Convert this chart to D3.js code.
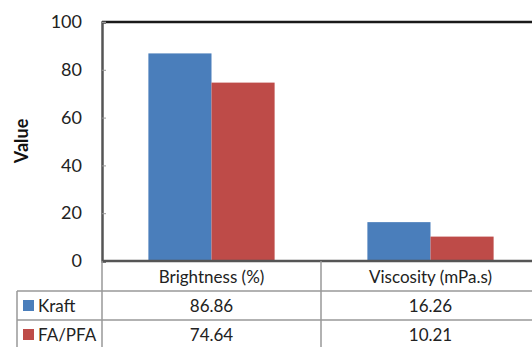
<!DOCTYPE html>
<html><head><meta charset="utf-8">
<script src="https://cdn.jsdelivr.net/npm/d3@7"></script>
<style>body{margin:0;background:#fff;}svg{display:block;font-family:Lato,"Open Sans",sans-serif;}</style>
</head><body>
<svg id="c" width="532" height="347"></svg>
<script>
const categories = ["Brightness (%)", "Viscosity (mPa.s)"];
const seriesNames = ["Kraft", "FA/PFA"];
const kraft = [86.86, 16.26];
const fapfa = [74.64, 10.21];
const valueLabels = [["86.86", "16.26"], ["74.64", "10.21"]];
const yTicks = [0, 20, 40, 60, 80, 100];
const colors = ["#4a7ebb", "#be4b48"];

(function () {
const svg = d3.select("#c");
const mLeft = 102, mTop = 22, mBottom = 261, catW = 219;
const x = d3.scaleBand().domain(categories).range([mLeft, mLeft + catW * categories.length]).paddingInner(0).paddingOuter(0);
const y = d3.scaleLinear().domain([0, 100]).range([mBottom, mTop]);
const xs = d3.scaleBand().domain(seriesNames).range([0, x.bandwidth()]).paddingInner(0).paddingOuter(0.735);

const series = [kraft, fapfa];
seriesNames.forEach((s, si) => {
  svg.append("g").selectAll("rect").data(categories).join("rect")
    .attr("x", (c) => x(c) + xs(s))
    .attr("width", xs.bandwidth())
    .attr("y", (c, i) => y(series[si][i]))
    .attr("height", (c, i) => y(0) - y(series[si][i]))
    .attr("fill", colors[si]);
});

svg.append("line").attr("x1", mLeft).attr("x2", 532).attr("y1", mTop).attr("y2", mTop)
  .attr("stroke", "#1a1a1a").attr("stroke-width", 2.5);

const yAxis = d3.axisLeft(y).tickValues(yTicks).tickSize(-4).tickPadding(20);
const ga = svg.append("g").attr("transform", `translate(${mLeft},0)`).call(yAxis);
ga.select(".domain").attr("stroke", "#555").attr("stroke-width", 2.5);
ga.selectAll(".tick line").attr("stroke", "#999");
ga.selectAll(".tick text").attr("font-size", 18).attr("fill", "#222").attr("font-family", "Lato,sans-serif");

svg.append("line").attr("x1", mLeft).attr("x2", 532).attr("y1", mBottom).attr("y2", mBottom)
  .attr("stroke", "#555").attr("stroke-width", 2.5);

svg.append("text").attr("transform", `translate(28,141) rotate(-90)`).attr("text-anchor", "middle")
  .attr("font-size", 18).attr("font-weight", "bold").attr("fill", "#111").text("Value");

const rowY = [mBottom, 291, 320, 349];
const tableLeft = 17;
const grid = "#999";
[291, 320].forEach(yy => svg.append("line").attr("x1", tableLeft).attr("x2", 532).attr("y1", yy).attr("y2", yy).attr("stroke", grid).attr("stroke-width", 1.5));
svg.append("line").attr("x1", mLeft).attr("x2", mLeft).attr("y1", mBottom).attr("y2", 347).attr("stroke", grid).attr("stroke-width", 1.5);
svg.append("line").attr("x1", tableLeft).attr("x2", tableLeft).attr("y1", 291).attr("y2", 347).attr("stroke", grid).attr("stroke-width", 1.5);
categories.forEach((c, i) => {
  if (i > 0) svg.append("line").attr("x1", x(c)).attr("x2", x(c)).attr("y1", mBottom).attr("y2", 347).attr("stroke", grid).attr("stroke-width", 1.5);
});
svg.append("g").selectAll("text").data(categories).join("text")
  .attr("x", c => x(c) + x.bandwidth() / 2).attr("y", 283).attr("text-anchor", "middle")
  .attr("font-size", 17).attr("fill", "#222").text(c => c);
seriesNames.forEach((s, si) => {
  const yc = (rowY[si + 1] + rowY[si + 2]) / 2;
  svg.append("rect").attr("x", 23).attr("y", yc - 5.5).attr("width", 11).attr("height", 11).attr("fill", colors[si]);
  svg.append("text").attr("x", 38).attr("y", yc + 6).attr("font-size", 17).attr("fill", "#222").text(s);
  svg.append("g").selectAll("text").data(categories).join("text")
    .attr("x", c => x(c) + x.bandwidth() / 2).attr("y", yc + 6).attr("text-anchor", "middle")
    .attr("font-size", 17).attr("fill", "#222").text((c, i) => valueLabels[si][i]);
});
})();
</script>
</body></html>
